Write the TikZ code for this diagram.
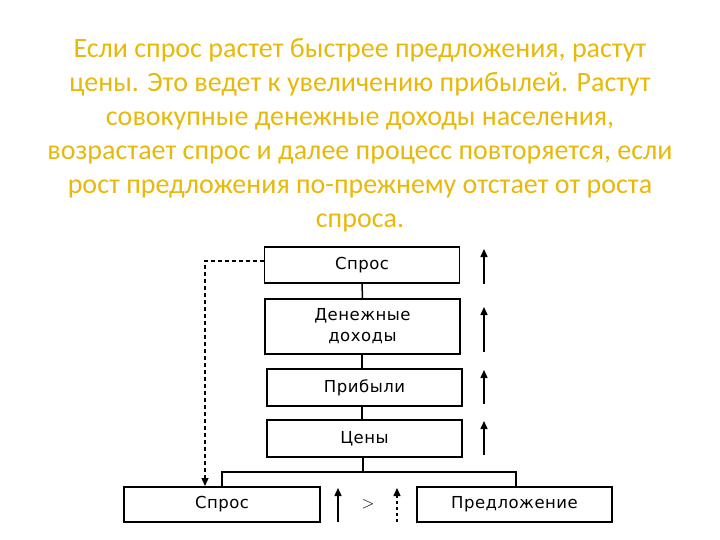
\documentclass[tikz,border=0pt]{standalone}
\usepackage{fontspec}
\setmainfont{Carlito}
\newfontfamily\boxfont[LetterSpace=3]{DejaVu Sans}
\usetikzlibrary{arrows.meta}
\definecolor{gold}{RGB}{232,184,10}
\tikzset{
  blk/.style={draw=black, line width=1.5pt, minimum width=195pt, inner sep=0pt, font=\boxfont\fontsize{16.5}{21}\selectfont, align=center},
  wire/.style={line width=1.5pt},
  uparr/.style={line width=1.5pt, -{Triangle[length=8pt,width=7pt]}},
  feed/.style={line width=1.3pt, dash pattern=on 4pt off 3pt, -{Triangle[length=8pt,width=7pt]}}
}
\begin{document}
\begin{tikzpicture}[x=1pt,y=-1pt]
\useasboundingbox (0,0) rectangle (720,540);
\node[text=gold, font=\fontsize{28}{34}\selectfont, align=center] (title) at (360,135)
 {Если спрос растет быстрее предложения, растут\\
  цены. Это ведет к увеличению прибылей. Растут\\
  совокупные денежные доходы населения,\\
  возрастает спрос и далее процесс повторяется, если\\
  рост предложения по-прежнему отстает от роста\\
  спроса.};
\node[blk, minimum height=36pt] (s1) at (362,265) {Спрос};
\node[blk, minimum height=55pt] (d) at (362.5,326.5) {Денежные\\доходы};
\node[blk, minimum height=37pt] (p) at (364.5,387.5) {Прибыли};
\node[blk, minimum height=37pt] (c) at (364.5,438.5) {Цены};
\node[blk, minimum height=35pt, minimum width=196pt] (s2) at (222,504.5) {Спрос};
\node[blk, minimum height=35pt, minimum width=195pt] (pr) at (514.5,504.5) {Предложение};
\node[font=\fontsize{17}{17}\selectfont\sffamily] (gt) at (368,504) {>};
\coordinate (j) at (363,472);
\coordinate (jl) at (222,472);
\coordinate (jr) at (516,472);
\draw[wire] (s1.south) -- (d.north);
\draw[wire] (d.south -| s1.south) -- (p.north -| s1.south);
\draw[wire] (p.south -| s1.south) -- (c.north -| s1.south);
\draw[wire] (c.south -| j) -- (j);
\draw[wire] (s2.north -| jl) -- (jl) -- (jr) -- (pr.north -| jr);
\coordinate (fa) at (205,261);
\coordinate (fb) at (205,486);
\draw[feed] (s1.west |- fa) -- (fa) -- (fb);
\coordinate (a1b) at (484,284); \coordinate (a1t) at (484,249);
\coordinate (a2b) at (484,352); \coordinate (a2t) at (484,307);
\coordinate (a3b) at (484,404); \coordinate (a3t) at (484,370);
\coordinate (a4b) at (484,455); \coordinate (a4t) at (484,421);
\coordinate (a5b) at (338,522); \coordinate (a5t) at (338,488);
\coordinate (a6b) at (397,522); \coordinate (a6t) at (397,488);
\draw[uparr] (a1b) -- (a1t);
\draw[uparr] (a2b) -- (a2t);
\draw[uparr] (a3b) -- (a3t);
\draw[uparr] (a4b) -- (a4t);
\draw[uparr] (a5b) -- (a5t);
\draw[uparr, dash pattern=on 3pt off 3pt, line width=1.3pt] (a6b) -- (a6t);
\end{tikzpicture}
\end{document}
